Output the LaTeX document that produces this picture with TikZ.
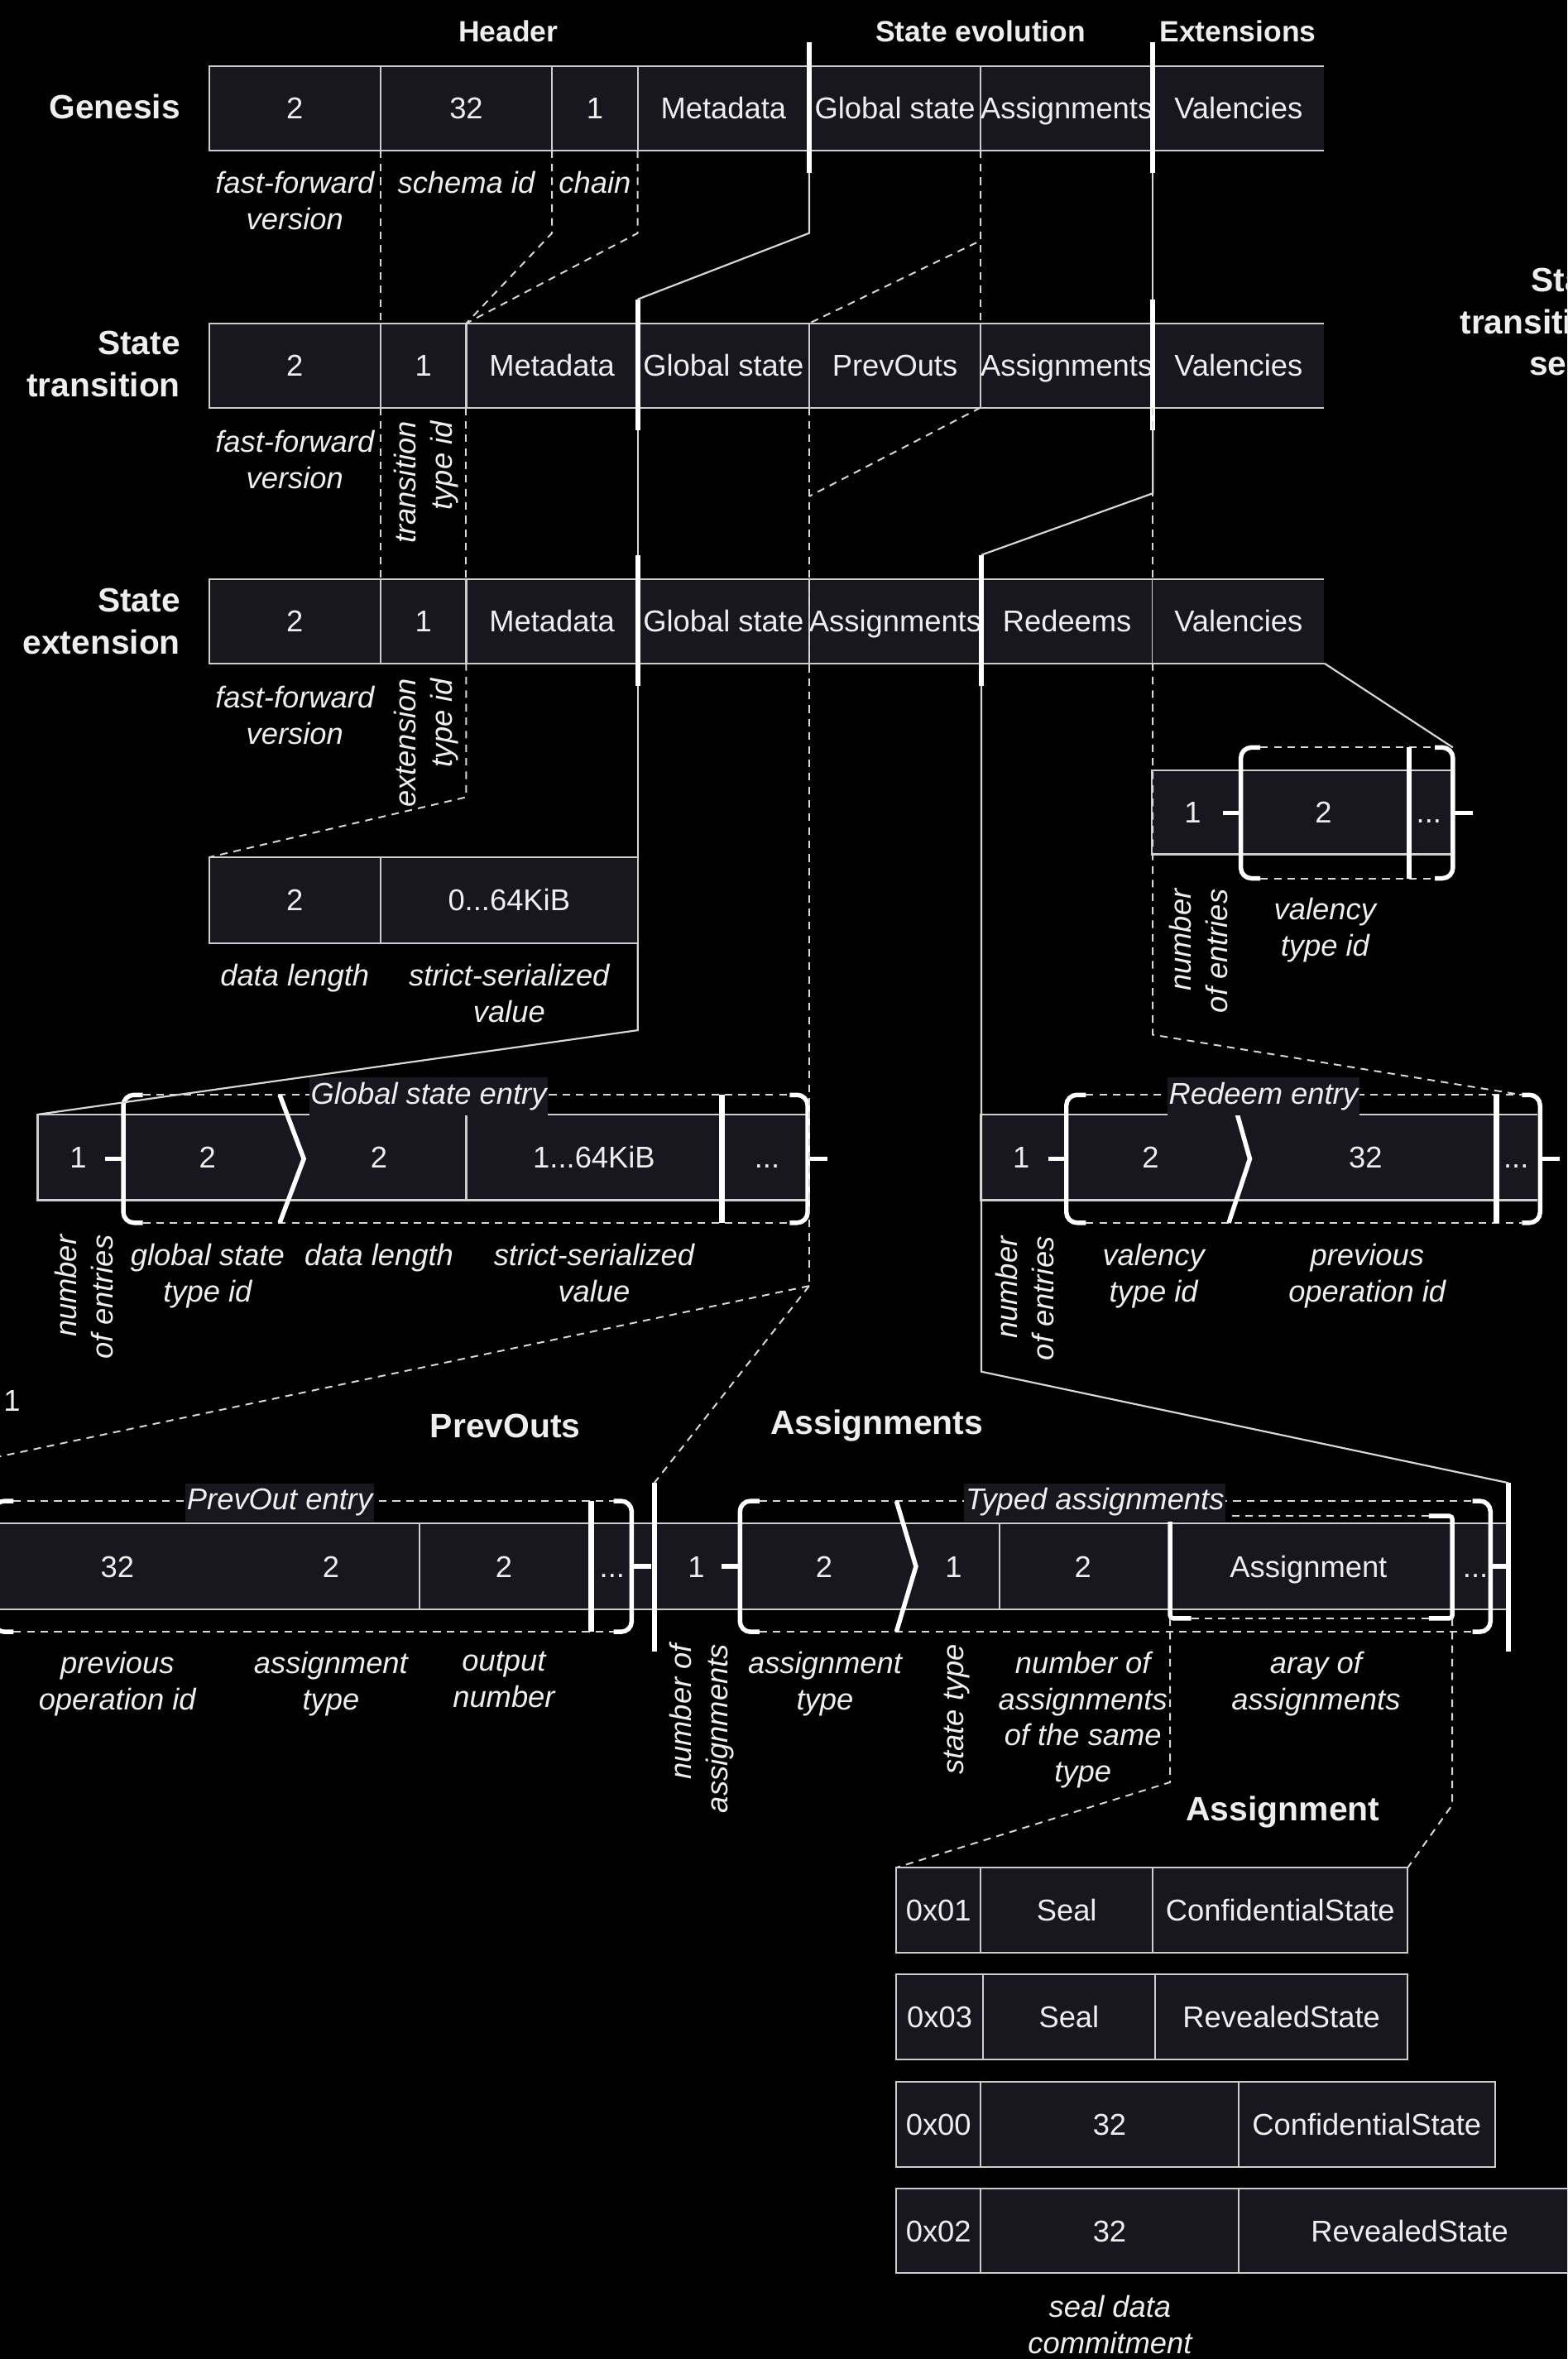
\documentclass[tikz,border=0pt]{standalone}
\usepackage{fontspec}
\setmainfont{Liberation Sans}
\usetikzlibrary{positioning,calc}

\definecolor{cellfill}{RGB}{24,22,31}
\definecolor{cellline}{RGB}{205,205,205}
\definecolor{linkgray}{RGB}{215,215,215}
\definecolor{ink}{RGB}{238,238,238}

\newcommand{\cellfont}{\fontsize{20}{24}\selectfont}
\newcommand{\notefont}{\fontsize{20}{24}\selectfont\itshape}
\newcommand{\rowfont}{\fontsize{22.4}{28}\selectfont\bfseries}
\newcommand{\headfont}{\fontsize{19.5}{24}\selectfont\bfseries}
\newcommand{\sectfont}{\fontsize{22.5}{27}\selectfont\bfseries}

% thick section separator on a cell edge
\newcommand{\sectionbar}[5]{%
  \coordinate (#1t) at ([yshift=#4pt]#2.north #3);
  \coordinate (#1b) at ([yshift=-#5pt]#2.south #3);
  \draw[bar] (#1t) -- (#1b);}
% curly braces round a repeated entry: name, spine x, top y, bottom y
\newcommand{\openbrace}[4]{%
  \coordinate (#1t) at (#2+13,#3);
  \coordinate (#1b) at (#2+13,#4);
  \coordinate (#1c) at (#2,#3);
  \draw[bracket,rounded corners=7pt] (#1t) -- (#2,#3) -- (#2,#4) -- (#1b);
  \draw[bracket] (#2,{(#3+#4)/2}) -- ++(-12,0);}
\newcommand{\closebrace}[4]{%
  \coordinate (#1t) at (#2-12,#3);
  \coordinate (#1b) at (#2-12,#4);
  \coordinate (#1c) at (#2,#3);
  \draw[bracket,rounded corners=7pt] (#1t) -- (#2,#3) -- (#2,#4) -- (#1b);
  \draw[bracket] (#2,{(#3+#4)/2}) -- ++(13,0);}

\begin{document}
\begin{tikzpicture}[
  x=1pt, y=-1pt,
  cell/.style={
    draw=cellline,line width=1.2pt,fill=cellfill,minimum height=56pt,
    inner sep=0pt,outer sep=0pt,text=ink,font=\cellfont,
    text height=14.3pt,text depth=0pt
  },
  opencell/.style={cell,draw=none},
  fullw/.style={minimum width=114pt},
  halfw/.style={minimum width=57pt},
  strip/.style={fill=cellfill,minimum height=57pt,inner sep=0pt,outer sep=0pt},
  celltext/.style={text=ink,font=\cellfont,inner sep=0pt,text height=14.3pt,text depth=0pt},
  note/.style={text=ink,font=\notefont,align=center,inner sep=0pt,anchor=north},
  vnote/.style={text=ink,font=\notefont,align=right,inner sep=0pt,rotate=90,anchor=east},
  heading/.style={text=ink,font=\headfont},
  secthead/.style={text=ink,font=\sectfont},
  rowlabel/.style={text=ink,font=\rowfont,align=right,anchor=east,inner sep=0pt},
  entrylabel/.style={
    fill=cellfill,text=ink,font=\notefont,inner xsep=1pt,inner ysep=3pt,
    text height=14.5pt,text depth=4.5pt
  },
  cellrule/.style={draw=cellline,line width=1.2pt},
  bar/.style={draw=white,line width=3.5pt},
  link/.style={draw=linkgray,line width=1.2pt},
  guide/.style={draw=linkgray,line width=1.1pt,dash pattern=on 5pt off 4pt},
  bracket/.style={draw=white,line width=3pt}
]
\useasboundingbox (0,0) rectangle (1042,1568.5);
\clip (0,0) rectangle (1042,1568.5);
\fill[black] (0,0) rectangle (1042,1568.5);

% ---- section headings ----
\node[heading] (hHeader) at (338,21)   {Header};
\node[heading] (hEvol)   at (652,21)   {State evolution};
\node[heading] (hExt)    at (823,21)   {Extensions};

% ---- genesis ----
\node[rowlabel] (lGen) at (120,71) {Genesis};
\node[cell,fullw] (gen1) at (196,72) {2};
\node[cell,fullw,right=0pt of gen1] (gen2) {32};
\node[cell,halfw,right=0pt of gen2] (gen3) {1};
\node[cell,fullw,right=0pt of gen3] (gen4) {Metadata};
\node[cell,fullw,right=0pt of gen4] (gen5) {Global state};
\node[cell,fullw,right=0pt of gen5] (gen6) {Assignments};
\node[opencell,fullw,right=0pt of gen6] (gen7) {Valencies};

% ---- state transition ----
\node[rowlabel] (lTrans) at (120,242) {State\\transition};
\node[cell,fullw] (st1) at (196,243) {2};
\node[cell,halfw,right=0pt of st1] (st2) {1};
\node[cell,fullw,right=0pt of st2] (st3) {Metadata};
\node[cell,fullw,right=0pt of st3] (st4) {Global state};
\node[cell,fullw,right=0pt of st4] (st5) {PrevOuts};
\node[cell,fullw,right=0pt of st5] (st6) {Assignments};
\node[opencell,fullw,right=0pt of st6] (st7) {Valencies};

% ---- state extension ----
\node[rowlabel] (lExt) at (120,413) {State\\extension};
\node[cell,fullw] (se1) at (196,413) {2};
\node[cell,halfw,right=0pt of se1] (se2) {1};
\node[cell,fullw,right=0pt of se2] (se3) {Metadata};
\node[cell,fullw,right=0pt of se3] (se4) {Global state};
\node[cell,fullw,right=0pt of se4] (se5) {Assignments};
\node[cell,fullw,right=0pt of se5] (se6) {Redeems};
\node[opencell,fullw,right=0pt of se6] (se7) {Valencies};

\node[rowlabel] (lSeals) at (1073,214) {State\\transition\\seals};

\foreach \c in {gen7,st7,se7}
  \draw[cellrule] (\c.north west) -- (\c.north east) (\c.south west) -- (\c.south east);

% ---- metadata layout ----
\node[cell,fullw,minimum height=57pt] (md1) at (196,598.5) {2};
\node[cell,minimum width=171pt,minimum height=57pt,right=0pt of md1] (md2) {0...64KiB};

% ---- entry strips ----
\node[strip,minimum width=512pt,anchor=west] (gsrow)  at (25,769.5)  {};
\node[strip,minimum width=370pt,anchor=west] (rerow)  at (652,769.5) {};
\node[strip,minimum width=199pt,minimum height=56pt,anchor=west] (vbrow) at (766,540) {};
\node[strip,minimum width=470pt,anchor=east] (porow)  at (435,1041.5) {};
\node[strip,minimum width=568pt,anchor=west] (asgrow) at (435,1041.5) {};

\foreach \r in {gsrow,rerow,vbrow}
  \draw[cellrule] (\r.north east) -- (\r.north west) -- (\r.south west) -- (\r.south east);
\foreach \r in {porow,asgrow}
  \draw[cellrule] (\r.north west) -- (\r.north east) (\r.south west) -- (\r.south east);
\draw[cellrule] (310,741) -- (310,798);
\draw[cellrule] (279,1013) -- (279,1070);
\draw[cellrule] (664.5,1013) -- (664.5,1070);

% ---- assignment variants ----
\node[cell,minimum width=56pt,minimum height=56.5pt,anchor=west] (asA1) at (596,1270) {0x01};
\node[cell,minimum width=114.5pt,minimum height=56.5pt,right=0pt of asA1] (asA2) {Seal};
\node[cell,minimum width=169.5pt,minimum height=56.5pt,right=0pt of asA2] (asA3) {ConfidentialState};
\node[cell,minimum width=57.5pt,minimum height=56.5pt,anchor=west] (asB1) at (596,1341) {0x03};
\node[cell,minimum width=114.5pt,minimum height=56.5pt,right=0pt of asB1] (asB2) {Seal};
\node[cell,minimum width=168pt,minimum height=56.5pt,right=0pt of asB2] (asB3) {RevealedState};
\node[cell,minimum width=56pt,minimum height=56.5pt,anchor=west] (asC1) at (596,1412.5) {0x00};
\node[cell,minimum width=171.5pt,minimum height=56.5pt,right=0pt of asC1] (asC2) {32};
\node[cell,minimum width=170.5pt,minimum height=56.5pt,right=0pt of asC2] (asC3) {ConfidentialState};
\node[cell,minimum width=56pt,minimum height=56pt,anchor=west] (asD1) at (596,1483.3) {0x02};
\node[cell,minimum width=171.5pt,minimum height=56pt,right=0pt of asD1] (asD2) {32};
\node[cell,minimum width=227.5pt,minimum height=56pt,right=0pt of asD2] (asD3) {RevealedState};

% ---- section bars ----
\sectionbar{gbA}{gen4}{east}{16}{15}
\sectionbar{gbB}{gen6}{east}{16}{15}
\sectionbar{sbA}{st3}{east}{16}{15}
\sectionbar{sbB}{st6}{east}{16}{15}
\sectionbar{ebA}{se3}{east}{16}{15}
\sectionbar{ebB}{se5}{east}{16}{15}
\sectionbar{barPA}{porow}{east}{27}{28}
\sectionbar{barAR}{asgrow}{east}{27}{28}

% ---- braces, chevrons and repeat bars ----
\openbrace{gsL}{82}{728}{813}
\closebrace{gsR}{537}{728}{813}
\openbrace{reL}{709}{728}{813}
\closebrace{reR}{1024}{728}{813}
\openbrace{vbL}{825}{497}{584}
\closebrace{vbR}{966}{497}{584}
\openbrace{poL}{-4}{998}{1085}
\closebrace{poR}{420}{998}{1085}
\openbrace{arL}{492}{998}{1085}
\closebrace{arR}{991}{998}{1085}

\foreach \e in {gs,re,vb,po,ar} {
  \draw[guide] (\e Lt) -- (\e Rt);
  \draw[guide] (\e Lb) -- (\e Rb);
}

\draw[bracket] (186,728) -- (202,770.5) -- (186,813);
\draw[bracket] (819,728) -- (831,770.5) -- (817,813);
\draw[bracket] (596,998) -- (609,1041.5) -- (596,1085);
\draw[bar] (480,728) -- (480,813);
\draw[bar] (995,728) -- (995,813);
\draw[bar] (937,497) -- (937,584);
\draw[bar] (393,998) -- (393,1085);

% inner square brackets round one assignment
\coordinate (sqLb) at (778,1076);
\coordinate (sqRb) at (965.6,1076);
\draw[bracket,rounded corners=2pt] (792,1008) -- (778,1008) -- (sqLb) -- (792,1076);
\draw[bracket,rounded corners=2pt] (950,1008) -- (965.6,1008) -- (sqRb) -- (950,1076);
\draw[guide] (792,1008) -- (950,1008);
\draw[guide] (792,1076) -- (950,1076);

% ---- connectors between layouts ----
\coordinate (prevJoin) at (538,330);
\coordinate (poFork)   at (538,855);
\coordinate (poFar)    at (-60,981);

\draw[link] (gbAb) -- ++(0,40) -- (sbAt);
\draw[link] (gbBb) -- (sbBt);
\draw[guide] (gen1.south east) -- (st1.north east);
\draw[guide] (gen2.south east) -- ++(0,55) -- (st2.north east);
\draw[guide] (gen3.south east) -- ++(0,55) -- (st2.north east);
\draw[guide] (gen5.south east) -- ++(0,60) -- (st4.north east);
\draw[guide] (gen5.south east) -- (st5.north east);

\draw[guide] (st1.south east) -- (se1.north east);
\draw[guide] (st2.south east) -- (se2.north east);
\draw[link] (sbAb) -- (ebAt);
\draw[link] (sbBb) -- ++(0,42) -- (ebBt);
\draw[guide] (st6.south east) -- (se6.north east);
\draw[guide] (st4.south east) -- (poFork);
\draw[guide] (st5.south east) -- (prevJoin);

\draw[guide] (se2.south east) -- ++(0,89) -- (md1.north west);
\draw[link] (ebAb) -- (md2.north east);
\draw[link] (md2.south east) -- ++(0,58) -- (gsrow.north west);
\draw[link] (ebBb) -- ++(0,456) -- (barARt);
\draw[guide] (se6.south east) -- ++(0,247) -- (reRt);
\draw[link] (se7.south east) -- (vbRc);
\draw[guide] (poFork) -- (poFar);
\draw[guide] (poFork) -- (barPAt);
\draw[guide] (sqLb) -- ++(0,109) -- (asA1.north west);
\draw[guide] (sqRb) -- ++(0,124) -- (asA3.north east);

% ---- texts inside entries ----
\node[celltext] (gsN)  at (52,769.5)  {1};
\node[celltext] (gsT)  at (138,769.5) {2};
\node[celltext] (gsL)  at (252,769.5) {2};
\node[celltext] (gsV)  at (395,769.5) {1...64KiB};
\node[celltext] (gsM)  at (510,769.5) {...};
\node[celltext] (reN)  at (679,769.5) {1};
\node[celltext] (reT)  at (765,769.5) {2};
\node[celltext] (reP)  at (908,769.5) {32};
\node[celltext] (reM)  at (1008,769.5) {...};
\node[celltext] (vbN)  at (793,540)   {1};
\node[celltext] (vbT)  at (880,540)   {2};
\node[celltext] (vbM)  at (950,540)   {...};
\node[celltext] (poP)  at (78,1041.5)  {32};
\node[celltext] (poA)  at (220,1041.5) {2};
\node[celltext] (poO)  at (335,1041.5) {2};
\node[celltext] (poM)  at (407,1041.5) {...};
\node[celltext] (arN)  at (463,1041.5) {1};
\node[celltext] (arT)  at (548,1041.5) {2};
\node[celltext] (arS)  at (634,1041.5) {1};
\node[celltext] (arC)  at (720,1041.5) {2};
\node[celltext] (arA)  at (870,1041.5) {Assignment};
\node[celltext] (arM)  at (981,1041.5) {...};
\node[celltext] (stray) at (8,931) {1};

\node[entrylabel] (gsLabel) at (285,729)  {Global state entry};
\node[entrylabel] (reLabel) at (840,729)  {Redeem entry};
\node[entrylabel] (poLabel) at (186,999)  {PrevOut entry};
\node[entrylabel] (arLabel) at (728,999)  {Typed assignments};

% ---- field notes ----
\node[note] (ffvG)    at (196,114)   {fast-forward\\version};
\node[note] (schemaG) at (310,114)   {schema id};
\node[note] (chainG)  at (395.5,114) {chain};
\node[note] (ffvS)    at (196,286)   {fast-forward\\version};
\node[vnote] (ttype)  at (283.5,280) {transition\\type id};
\node[note] (ffvE)    at (196,456)   {fast-forward\\version};
\node[vnote] (etype)  at (283.5,451) {extension\\type id};
\node[note] (mdLen)   at (196,641)   {data length};
\node[note] (mdVal)   at (338.5,641) {strict-serialized\\value};

\node[vnote] (gsCnt)  at (56,821)    {number\\of entries};
\node[note] (gsType)  at (138,827)   {global state\\type id};
\node[note] (gsLen)   at (252,827)   {data length};
\node[note] (gsVal)   at (395,827)   {strict-serialized\\value};
\node[vnote] (reCnt)  at (681.5,822) {number\\of entries};
\node[note] (reType)  at (767,827)   {valency\\type id};
\node[note] (rePrev)  at (909,827)   {previous\\operation id};
\node[vnote] (vbCnt)  at (797,591)   {number\\of entries};
\node[note] (vbType)  at (881,597)   {valency\\type id};

\node[secthead] (hPrev) at (336,948)  {PrevOuts};
\node[secthead] (hAsg)  at (583,948)  {Assignments};
\node[secthead] (hOne)  at (853,1205) {Assignment};

\node[note] (poPrev)  at (78,1098)    {previous\\operation id};
\node[note] (poType)  at (220,1098)   {assignment\\type};
\node[note] (poOut)   at (335,1098)   {output\\number};
\node[vnote] (arCnt)  at (466.5,1093) {number of\\assignments};
\node[note] (arType)  at (548.5,1098) {assignment\\type};
\node[vnote] (arState) at (636,1093)  {state type};
\node[note] (arSame)  at (720,1098)   {number of\\assignments\\of the same\\type};
\node[note] (arArr)   at (875,1098)   {aray of\\assignments};
\node[note] (sealCm)  at (738,1526)   {seal data\\commitment};

\end{tikzpicture}
\end{document}
